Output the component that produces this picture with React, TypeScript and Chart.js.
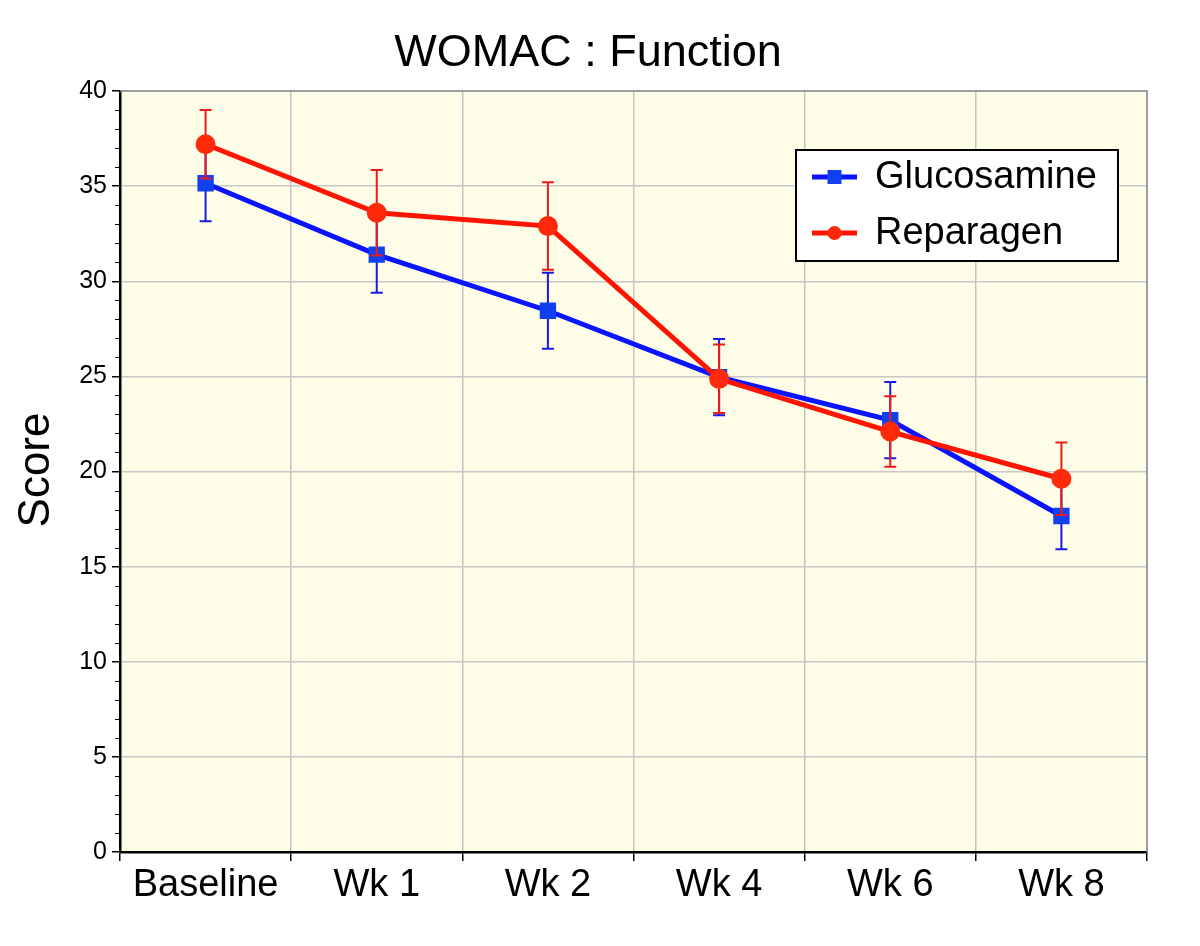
import React, { useEffect, useRef } from "react";
import { Chart, registerables } from "chart.js";

Chart.register(...registerables);

const categories = ["Baseline", "Wk 1", "Wk 2", "Wk 4", "Wk 6", "Wk 8"];
const glucosamine = [35.15, 31.4, 28.45, 24.96, 22.7, 17.66];
const glucosamineErr = [2.0, 2.0, 2.0, 2.0, 2.0, 1.75];
const reparagen = [37.2, 33.6, 32.9, 24.87, 22.1, 19.62];
const reparagenErr = [1.8, 2.25, 2.3, 1.8, 1.85, 1.9];
const yTicks = [0, 5, 10, 15, 20, 25, 30, 35, 40];

const FONT = "'Liberation Sans', Arial, Helvetica, sans-serif";
const BLUE = "#0a14ff";
const BLUE_MARK = "#1040f0";
const RED = "#ff1400";
const RED_MARK = "#ff2a0a";

const errors: number[][] = [glucosamineErr, reparagenErr];
const errColors = ["#1a1ae6", "#ee1a1a"];

const customPlugin = {
  id: "custom",
  beforeDraw(chart: any) {
    const { ctx, chartArea: a } = chart;
    ctx.save();
    ctx.fillStyle = "#ffffff";
    ctx.fillRect(0, 0, chart.width, chart.height);
    ctx.fillStyle = "#fefde8";
    ctx.fillRect(a.left, a.top, a.right - a.left, a.bottom - a.top);
    ctx.restore();
  },
  beforeDatasetDraw(chart: any, args: any) {
    const idx = args.index;
    const errs = errors[idx];
    if (!errs) return;
    const ds = chart.data.datasets[idx];
    const y = chart.scales.y;
    const x = chart.scales.x;
    const ctx = chart.ctx;
    ctx.save();
    ctx.strokeStyle = errColors[idx];
    ctx.lineWidth = 2;
    ds.data.forEach((v: number, i: number) => {
      const px = x.getPixelForValue(i);
      const top = y.getPixelForValue(v + errs[i]);
      const bot = y.getPixelForValue(v - errs[i]);
      ctx.beginPath();
      ctx.moveTo(px, top);
      ctx.lineTo(px, bot);
      ctx.moveTo(px - 6, top);
      ctx.lineTo(px + 6, top);
      ctx.moveTo(px - 6, bot);
      ctx.lineTo(px + 6, bot);
      ctx.stroke();
    });
    ctx.restore();
  },
  afterDraw(chart: any) {
    const { ctx, chartArea: a } = chart;
    const y = chart.scales.y;
    ctx.save();
    // top and right borders
    ctx.strokeStyle = "#8c8c8c";
    ctx.lineWidth = 1.5;
    ctx.beginPath();
    ctx.moveTo(a.left, a.top);
    ctx.lineTo(a.right, a.top);
    ctx.lineTo(a.right, a.bottom);
    ctx.stroke();
    // minor y ticks
    ctx.strokeStyle = "#000";
    ctx.lineWidth = 1;
    for (let v = 0; v <= 40; v++) {
      if (v % 5 === 0) continue;
      const py = Math.round(y.getPixelForValue(v)) + 0.5;
      ctx.beginPath();
      ctx.moveTo(a.left - 5, py);
      ctx.lineTo(a.left, py);
      ctx.stroke();
    }
    // title
    ctx.fillStyle = "#000";
    ctx.font = `45px ${FONT}`;
    ctx.textAlign = "center";
    ctx.textBaseline = "middle";
    ctx.fillText("WOMAC : Function", 588, 54);
    // y title
    ctx.save();
    ctx.translate(37, 470);
    ctx.rotate(-Math.PI / 2);
    ctx.font = `44px ${FONT}`;
    ctx.fillText("Score", 0, 0);
    ctx.restore();
    // legend
    const lx = 796, ly = 150, lw = 322, lh = 111;
    ctx.fillStyle = "#ffffff";
    ctx.fillRect(lx, ly, lw, lh);
    ctx.strokeStyle = "#000";
    ctx.lineWidth = 2;
    ctx.strokeRect(lx, ly, lw, lh);
    const items = [
      { label: chart.data.datasets[0].label, color: BLUE, mark: BLUE_MARK, square: true, yy: 177 },
      { label: chart.data.datasets[1].label, color: RED, mark: RED_MARK, square: false, yy: 233 },
    ];
    items.forEach((it) => {
      ctx.strokeStyle = it.color;
      ctx.lineWidth = 5;
      ctx.beginPath();
      ctx.moveTo(812, it.yy);
      ctx.lineTo(857, it.yy);
      ctx.stroke();
      ctx.fillStyle = it.mark;
      if (it.square) {
        ctx.fillRect(834.5 - 7, it.yy - 7, 14, 14);
      } else {
        ctx.beginPath();
        ctx.arc(834.5, it.yy, 7, 0, Math.PI * 2);
        ctx.fill();
      }
      ctx.fillStyle = "#000";
      ctx.font = `38px ${FONT}`;
      ctx.textAlign = "left";
      ctx.textBaseline = "middle";
      ctx.fillText(it.label, 875, it.yy + 1);
    });
    ctx.restore();
  },
};

export default function App() {
  const ref = useRef<HTMLCanvasElement | null>(null);
  useEffect(() => {
    if (!ref.current) return;
    const chart = new Chart(ref.current, {
      type: "line",
      data: {
        labels: categories,
        datasets: [
          {
            label: "Glucosamine",
            data: glucosamine,
            borderColor: BLUE,
            backgroundColor: BLUE_MARK,
            pointBackgroundColor: BLUE_MARK,
            pointBorderColor: BLUE_MARK,
            pointStyle: "rect",
            pointRadius: 8,
            borderWidth: 5,
            order: 2,
          },
          {
            label: "Reparagen",
            data: reparagen,
            borderColor: RED,
            backgroundColor: RED_MARK,
            pointBackgroundColor: RED_MARK,
            pointBorderColor: RED_MARK,
            pointStyle: "circle",
            pointRadius: 7.5,
            borderWidth: 5,
            order: 1,
          },
        ],
      },
      options: {
        animation: false,
        responsive: false,
        maintainAspectRatio: false,
        layout: { padding: { left: 0, right: 53, top: 91, bottom: 0 } },
        plugins: {
          legend: { display: false },
          title: { display: false },
          tooltip: { enabled: false },
        },
        scales: {
          x: {
            type: "category",
            offset: true,
            grid: {
              offset: true,
              color: "#c4c4c4",
              lineWidth: 1.5,
              tickColor: "#000",
              tickLength: 9,
              drawTicks: true,
            },
            border: { color: "#000", width: 2.5 },
            ticks: {
              color: "#000",
              font: { family: FONT, size: 38 },
              padding: 2,
              maxRotation: 0,
              autoSkip: false,
            },
            afterFit: (s: any) => {
              s.height = 94;
            },
          },
          y: {
            min: 0,
            max: 40,
            afterBuildTicks: (s: any) => {
              s.ticks = yTicks.map((v) => ({ value: v }));
            },
            grid: {
              color: "#c8c8c8",
              lineWidth: 1.5,
              tickColor: "#000",
              tickLength: 8,
            },
            border: { color: "#000", width: 2.5 },
            ticks: {
              color: "#000",
              font: { family: FONT, size: 25 },
              padding: 5,
            },
            afterFit: (s: any) => {
              s.width = 120;
            },
          },
        },
      },
      plugins: [customPlugin],
    });
    return () => chart.destroy();
  }, []);
  return (
    <div style={{ position: "fixed", left: 0, top: 0, width: 1200, height: 946 }}>
      <canvas ref={ref} width={1200} height={946} style={{ width: 1200, height: 946 }} />
    </div>
  );
}
